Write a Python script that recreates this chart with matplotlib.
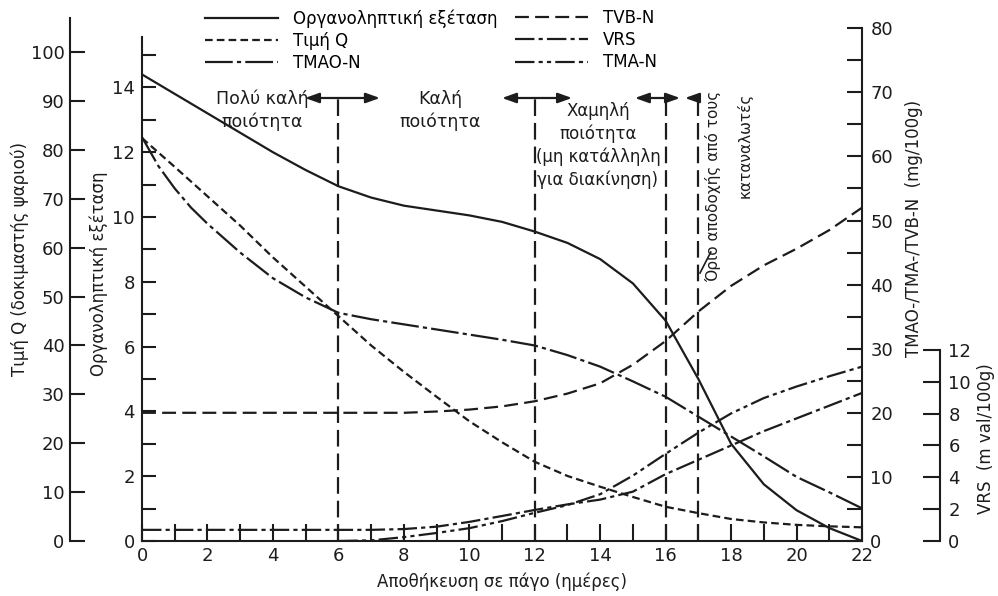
import matplotlib.pyplot as plt
from matplotlib.ticker import MultipleLocator

plt.rcParams['font.family'] = ['DejaVu Sans']
plt.rcParams['lines.scale_dashes'] = False

# storage on ice (days)
days = list(range(23))
organoleptic = [14.4, 13.8, 13.2, 12.6, 12.0, 11.45, 10.95, 10.6, 10.35, 10.2, 10.05, 9.85,
                9.55, 9.2, 8.7, 7.95, 6.8, 5.0, 3.0, 1.75, 0.95, 0.4, 0.0]
q_value = [82.4, 76.5, 70.5, 64.5, 58.0, 52.0, 46.0, 40.0, 34.6, 29.5, 24.5, 20.2,
           16.2, 13.3, 11.1, 9.0, 7.0, 5.7, 4.5, 3.8, 3.3, 3.0, 2.8]
days_tmao = [0, 0.5, 1, 1.5, 2, 3, 4, 5, 6, 7, 8, 9, 10, 11, 12, 13, 14, 15, 16, 17, 18, 19, 20, 21, 22]
tmao_n = [63.0, 58.5, 55.0, 52.0, 49.5, 45.0, 41.0, 38.0, 35.6, 34.6, 33.8, 33.0, 32.2, 31.4,
          30.5, 29.0, 27.2, 24.9, 22.5, 19.4, 16.3, 13.2, 10.0, 7.6, 5.1]
tvb_n = [20.0, 20.0, 20.0, 20.0, 20.0, 20.0, 20.0, 20.0, 20.0, 20.2, 20.5, 21.0,
         21.8, 23.0, 24.6, 27.5, 31.2, 35.8, 39.8, 43.0, 45.6, 48.5, 52.0]
vrs = [0.7, 0.7, 0.7, 0.7, 0.7, 0.7, 0.7, 0.7, 0.75, 0.9, 1.2, 1.57,
       1.95, 2.3, 2.6, 3.1, 4.2, 5.1, 6.0, 6.9, 7.7, 8.5, 9.3]
days_tma = list(range(6, 23))
tma_n = [0.0, 0.1, 0.6, 1.25, 2.0, 3.1, 4.4, 5.6, 7.3, 10.2, 13.6, 16.9, 19.9, 22.3, 24.1, 25.7, 27.2]

limits = [6, 12, 16, 17]

ink = '#1c1c1c'
lw = 1.6

fig = plt.figure(figsize=(9.98, 5.96), dpi=100)
ax = fig.add_axes([142/998, 1-541/596, 720/998, 513/596])
ax_mg = ax.twinx()
ax_q = ax.twinx()
ax_v = ax.twinx()

ax.set_xlim(0, 22)
ax.set_ylim(0, 513/32.4)
ax_mg.set_ylim(0, 513/6.41)
ax_q.set_ylim(0, 513/4.89)
ax_v.set_ylim(0, 513/15.92)

# curves
l_org, = ax.plot(days, organoleptic, color=ink, lw=lw, ls='-')
l_q, = ax_q.plot(days, q_value, color=ink, lw=lw, ls=(0, (5.5, 3)))
l_tmao, = ax_mg.plot(days_tmao, tmao_n, color=ink, lw=lw, ls=(0, (20, 3, 3, 3)))
l_tvb, = ax_mg.plot(days, tvb_n, color=ink, lw=lw, ls=(0, (10, 4.5)))
l_vrs, = ax_v.plot(days, vrs, color=ink, lw=lw, ls=(0, (14, 3, 3, 3)))
l_tma, = ax_mg.plot(days_tma, tma_n, color=ink, lw=lw, ls=(0, (14, 3, 3, 3, 3, 3)))

# quality limits
ytop = (541-98)/32.4
ax.vlines(limits, 0, ytop, colors=ink, lw=lw, linestyles=[(0, (12, 5))])
def arrow(x0, x1):
    ax.annotate('', xy=(x1, ytop), xytext=(x0, ytop),
                arrowprops=dict(arrowstyle='-|>,head_length=0.7,head_width=0.25', color=ink, lw=lw,
                                mutation_scale=12, shrinkA=0, shrinkB=0))
arrow(6, 4.98); arrow(6, 7.27)
arrow(12, 11.0); arrow(12, 13.14)
arrow(16, 15.06); arrow(16, 16.44)
arrow(17, 16.59)

ax.text(3.67, 13.29, 'Πολύ καλή\nποιότητα', ha='center', va='center', fontsize=12.5, linespacing=1.3, color=ink)
ax.text(9.1, 13.29, 'Καλή\nποιότητα', ha='center', va='center', fontsize=12.5, linespacing=1.3, color=ink)
ax.text(13.93, 12.2, 'Χαμηλή\nποιότητα\n(μη κατάλληλη\nγια διακίνηση)', ha='center', va='center',
        fontsize=12, linespacing=1.3, color=ink)
ax.text(17.45, 10.96, 'Όριο αποδοχής από τους', rotation=90, ha='center', va='center', fontsize=11, color=ink)
ax.text(18.42, 12.2, 'καταναλωτές', rotation=90, ha='center', va='center', fontsize=11, color=ink)
ax.plot([17.05, 17.38], [8.27, 8.92], color=ink, lw=1.2)

# spines / ticks
for a in (ax, ax_mg, ax_q, ax_v):
    for s in a.spines.values():
        s.set_visible(False)
        s.set_linewidth(1.5)
        s.set_color(ink)

ax.spines['left'].set_visible(True)
ax.spines['bottom'].set_visible(True)
ax.spines['left'].set_bounds(0, 15.55)
ax.xaxis.set_major_locator(MultipleLocator(2))
ax.xaxis.set_minor_locator(MultipleLocator(1))
ax.yaxis.set_major_locator(MultipleLocator(2))
ax.set_yticks(range(1, 16, 2), minor=True)
ax.tick_params(axis='x', which='both', direction='in', length=12, width=1.5, colors=ink, labelsize=13, pad=4)
ax.tick_params(axis='y', which='both', direction='in', length=10, width=1.5, colors=ink, labelsize=13, pad=5)

ax_mg.spines['right'].set_visible(True)
ax_mg.spines['right'].set_bounds(0, 80)
ax_mg.yaxis.set_major_locator(MultipleLocator(10))
ax_mg.set_yticks(range(5, 80, 10), minor=True)
ax_mg.tick_params(axis='y', which='both', direction='in', length=11, width=1.5, colors=ink, labelsize=13, pad=6)

ax_q.spines['left'].set_visible(True)
ax_q.spines['left'].set_position(('axes', -72/720))
ax_q.spines['left'].set_bounds(0, (541-18)/4.89)
ax_q.yaxis.set_ticks_position('left')
ax_q.yaxis.set_label_position('left')
ax_q.set_yticks(range(0, 101, 10))
ax_q.tick_params(axis='y', which='both', direction='in', length=11, width=1.5, colors=ink, labelsize=13, pad=4)

ax_v.spines['right'].set_visible(True)
ax_v.spines['right'].set_position(('axes', (940-142)/720))
ax_v.spines['right'].set_bounds(0, 12)
ax_v.set_yticks(range(0, 13, 2))
ax_v.tick_params(axis='y', which='both', direction='in', length=12, width=1.5, colors=ink, labelsize=13, pad=6)

# axis titles
ax.set_xlabel('Αποθήκευση σε πάγο (ημέρες)', fontsize=12, color=ink, labelpad=6)
ax.set_ylabel('Οργανοληπτική εξέταση', fontsize=12, color=ink)
ax.yaxis.set_label_coords(-0.047, 0.52)
ax_q.set_ylabel('Τιμή Q (δοκιμαστής ψαριού)', fontsize=12, color=ink)
ax_q.yaxis.set_label_coords(-0.157, 0.55)
ax_mg.set_ylabel('TMAO-/TMA-/TVB-N  (mg/100g)', fontsize=12, color=ink)
ax_mg.yaxis.set_label_coords(1.06, 0.61)
ax_v.set_ylabel('VRS  (m val/100g)', fontsize=12, color=ink)
ax_v.yaxis.set_label_coords(1.16, 0.2)
ax_mg.yaxis.label.set_rotation(90)
ax_v.yaxis.label.set_rotation(90)

# legend in two blocks
leg_kw = dict(loc='upper left', frameon=False, fontsize=12, handlelength=4.4,
              handletextpad=0.9, labelspacing=0.25, borderaxespad=0, borderpad=0)
fig.legend([l_org, l_q, l_tmao], ['Οργανοληπτική εξέταση', 'Τιμή Q', 'TMAO-N'],
           bbox_to_anchor=(205/998, 1-9/596), **leg_kw)
fig.legend([l_tvb, l_vrs, l_tma], ['TVB-N', 'VRS', 'TMA-N'],
           bbox_to_anchor=(515/998, 1-9/596), **leg_kw)

fig.savefig('out.png', dpi=100, facecolor='white')
